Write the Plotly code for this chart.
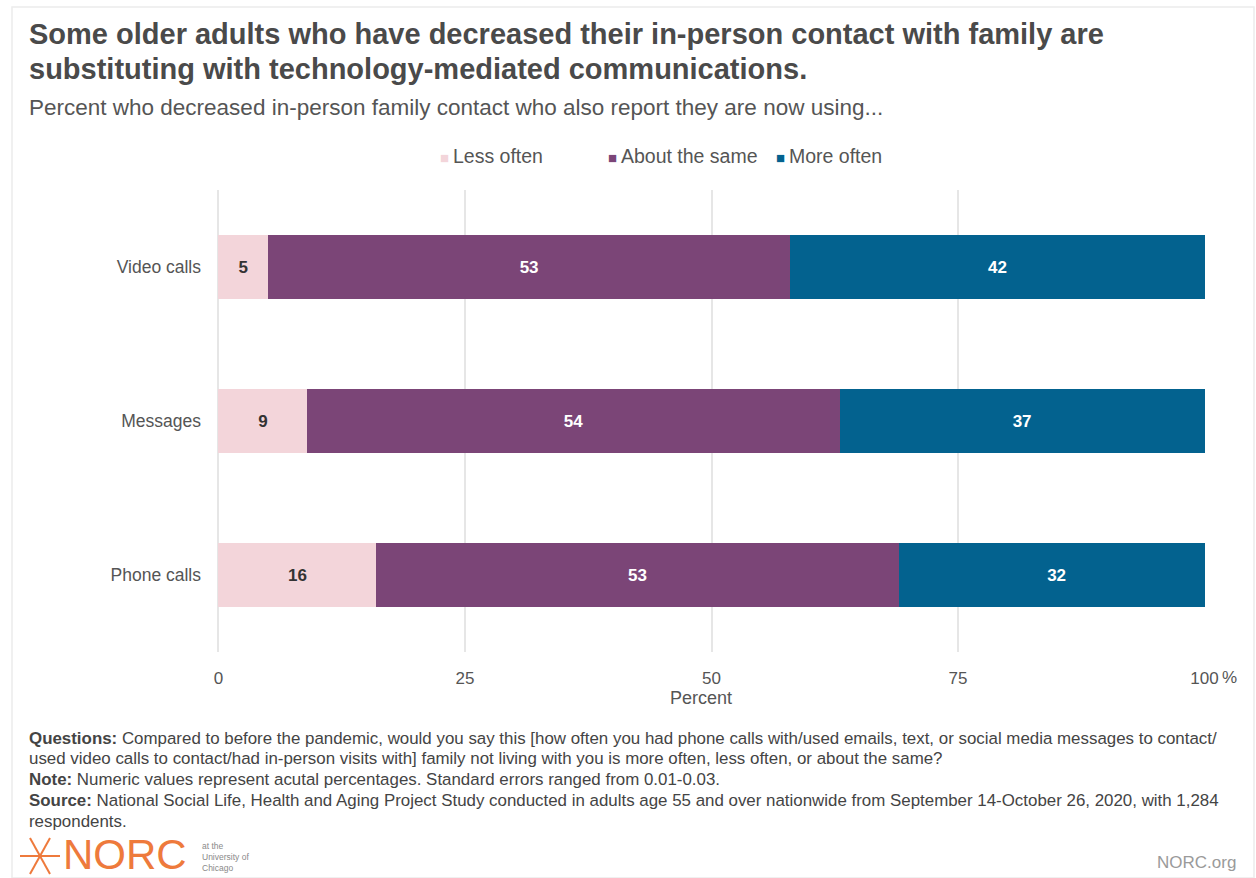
import plotly.graph_objects as go

# Survey results (percent), shown bottom-to-top as listed
categories = ["Phone calls", "Messages", "Video calls"]
less_often = [16, 9, 5]
about_same = [53, 54, 53]
more_often = [32, 37, 42]

series_names = ["Less often", "About the same", "More often"]
series_colors = ["#f3d5da", "#7b4577", "#03628f"]
label_colors = ["#333333", "#ffffff", "#ffffff"]

tick_vals = [0, 25, 50, 75, 100]
tick_text = ["0", "25", "50", "75", "100"]

W, H = 1256, 878
L, R, T, B = 218, 51, 190, 226
PW, PH = W - L - R, H - T - B


def px_x(px):
    return (px - L) / PW


def px_y(py):
    return (H - B - py) / PH


FONT = "Liberation Sans, Arial, sans-serif"
GRID = "#e6e6e6"

fig = go.Figure()
for name, vals, col, tcol in zip(series_names, [less_often, about_same, more_often],
                                  series_colors, label_colors):
    fig.add_trace(go.Bar(
        y=categories, x=vals, name=name, orientation="h",
        marker=dict(color=col, line=dict(width=0)),
        text=vals, texttemplate="<b>%{x}</b>", textposition="inside",
        insidetextanchor="middle", constraintext="none",
        textfont=dict(family=FONT, size=17, color=tcol),
        showlegend=False, hoverinfo="skip",
    ))

annotations = []

# Title (two lines) and subtitle
title_lines = [
    "Some older adults who have decreased their in-person contact with family are",
    "substituting with technology-mediated communications.",
]
for i, line in enumerate(title_lines):
    annotations.append(dict(
        text=f"<b>{line}</b>", x=px_x(27), y=px_y(34 + i * 35.5),
        xref="paper", yref="paper", xanchor="left", yanchor="middle",
        showarrow=False, font=dict(family=FONT, size=29, color="#4a4a4a")))
annotations.append(dict(
    text="Percent who decreased in-person family contact who also report they are now using...",
    x=px_x(27), y=px_y(107), xref="paper", yref="paper", xanchor="left", yanchor="middle",
    showarrow=False, font=dict(family=FONT, size=22.5, color="#555555")))

# Legend row
legend_x = [438, 606, 774]
for lx, name, col in zip(legend_x, series_names, series_colors):
    annotations.append(dict(
        text=f"<span style='color:{col}; font-size:15px'>■</span>\u2009{name}",
        x=px_x(lx), y=px_y(156), xref="paper", yref="paper",
        xanchor="left", yanchor="middle", showarrow=False,
        font=dict(family=FONT, size=19.5, color="#555555")))

# Percent sign after the last tick label
annotations.append(dict(
    text="%", x=100, y=px_y(677), xref="x", yref="paper", xanchor="left", yanchor="middle",
    xshift=15, showarrow=False, font=dict(family=FONT, size=17, color="#555555")))

# x-axis title
annotations.append(dict(
    text="Percent", x=px_x(701), y=px_y(698), xref="paper", yref="paper",
    xanchor="center", yanchor="middle", showarrow=False,
    font=dict(family=FONT, size=18, color="#555555")))

# Footnotes
foot_lines = [
    "<b>Questions:</b> Compared to before the pandemic, would you say this [how often you had phone calls with/used emails, text, or social media messages to contact/",
    "used video calls to contact/had in-person visits with] family not living with you is more often, less often, or about the same?",
    "<b>Note:</b> Numeric values represent acutal percentages. Standard errors ranged from 0.01-0.03.",
    "<b>Source:</b> National Social Life, Health and Aging Project Study conducted in adults age 55 and over nationwide from September 14-October 26, 2020, with 1,284",
    "respondents.",
]
for i, line in enumerate(foot_lines):
    annotations.append(dict(
        text=line, x=px_x(27), y=px_y(738 + i * 20.8), xref="paper", yref="paper",
        xanchor="left", yanchor="middle", showarrow=False,
        font=dict(family=FONT, size=16.9, color="#444444")))

# Logo wordmark
annotations.append(dict(
    text="NORC", x=px_x(61), y=px_y(854.5), xref="paper", yref="paper",
    xanchor="left", yanchor="middle", showarrow=False,
    font=dict(family=FONT, size=42, color="#ee7a3c")))
annotations.append(dict(
    text="at the<br>University of<br>Chicago", x=px_x(200), y=px_y(857),
    xref="paper", yref="paper", xanchor="left", yanchor="middle", align="left",
    showarrow=False, font=dict(family=FONT, size=8.5, color="#8a8a8a")))
annotations.append(dict(
    text="NORC.org", x=px_x(1238), y=px_y(862), xref="paper", yref="paper",
    xanchor="right", yanchor="middle", showarrow=False,
    font=dict(family=FONT, size=17, color="#9a9a9a")))

shapes = [
    # faint card border
    dict(type="rect", xref="paper", yref="paper", x0=px_x(12), x1=px_x(1254),
         y0=px_y(878), y1=px_y(7), line=dict(color="#ececec", width=1.5),
         fillcolor="rgba(0,0,0,0)", layer="below"),
]
# logo starburst
cx, cy, rx = 40, 856, 20
for dx, dy in [(rx, 0), (rx * 0.5, 18), (-rx * 0.5, 18)]:
    shapes.append(dict(type="line", xref="paper", yref="paper",
                       x0=px_x(cx - dx), x1=px_x(cx + dx),
                       y0=px_y(cy - dy), y1=px_y(cy + dy),
                       line=dict(color="#ee7a3c", width=2)))

fig.update_layout(
    width=W, height=H,
    margin=dict(l=L, r=R, t=T, b=B, pad=0),
    paper_bgcolor="white", plot_bgcolor="white",
    barmode="stack", bargap=0.59,
    font=dict(family=FONT, color="#555555"),
    xaxis=dict(range=[-0.05, 100.05], tickvals=tick_vals, ticktext=tick_text,
               showgrid=True, gridcolor=GRID, gridwidth=2,
               zeroline=True, zerolinecolor=GRID, zerolinewidth=2,
               showline=False, ticks="", ticklabelstandoff=14,
               tickfont=dict(family=FONT, size=17, color="#555555")),
    yaxis=dict(showgrid=False, zeroline=False, showline=False, ticks="",
               ticklabelstandoff=16,
               tickfont=dict(family=FONT, size=17.5, color="#555555")),
    annotations=annotations, shapes=shapes,
)

fig.write_html("out.html")
